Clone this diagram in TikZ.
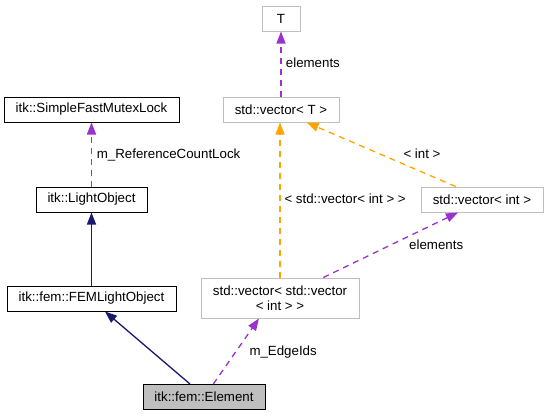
\documentclass[tikz,border=0pt]{standalone}
\usepackage{fontspec}
\setmainfont{Liberation Sans}
\usetikzlibrary{arrows.meta}
\definecolor{navy}{HTML}{191970}
\definecolor{purp}{HTML}{9A32CD}
\definecolor{orng}{HTML}{FFA500}
\definecolor{gbord}{HTML}{BFBFBF}
\definecolor{efill}{HTML}{BFBFBF}
\tikzset{
  base/.style={rectangle, inner sep=0pt, font=\fontsize{13.3}{14.7}\selectfont, align=center, line width=1pt},
  blackbox/.style={base, draw=black},
  graybox/.style={base, draw=gbord},
  lbl/.style={inner sep=0pt, anchor=west, font=\fontsize{13.3}{14.7}\selectfont, text height=9.5pt, text depth=0pt},
  inherit/.style={draw=navy, line width=1.3pt, -{Triangle[length=12pt,width=9pt]}},
  usepurp/.style={draw=purp, line width=1.3pt, dash pattern=on 6pt off 5pt, -{Triangle[length=12pt,width=9pt]}, purp},
  useorng/.style={draw=orng, line width=1.3pt, dash pattern=on 6pt off 5pt, -{Triangle[length=12pt,width=9pt]}, orng},
}
\begin{document}
\begin{tikzpicture}[x=1pt, y=-1pt]
\useasboundingbox (0,0) rectangle (549,416);
% nodes
\node[graybox, minimum width=38pt, minimum height=25pt] (T) at (281,18.5) {T};
\node[graybox, minimum width=116pt, minimum height=25pt] (vecT) at (281,109.5) {std::vector< T >};
\node[blackbox, minimum width=175pt, minimum height=25pt] (mutex) at (91.5,109.5) {itk::SimpleFastMutexLock};
\node[blackbox, minimum width=111pt, minimum height=25pt] (light) at (91.5,199.5) {itk::LightObject};
\node[blackbox, minimum width=169pt, minimum height=25pt] (fem) at (91.5,298.5) {itk::fem::FEMLightObject};
\node[blackbox, fill=efill, minimum width=122pt, minimum height=25pt] (elem) at (204,397) {itk::fem::Element};
\node[graybox, minimum width=158pt, minimum height=40pt] (vv) at (280,298) {std::vector< std::vector\\< int > >};
\node[graybox, minimum width=122pt, minimum height=25pt] (vint) at (482,199.5) {std::vector< int >};
% connectors
\draw[usepurp] (light.north) -- (mutex.south);
\draw[usepurp] (vecT.north) -- (T.south);
\draw[inherit] (fem.north) -- (light.south);
\draw[inherit] ([xshift=-14pt]elem.north) -- ([xshift=13.5pt]fem.south);
\draw[usepurp] ([xshift=9.3pt]elem.north) -- ([xshift=-21pt]vv.south);
\draw[useorng] (vv.north) -- (vecT.south -| vv.north);
\draw[useorng] ([xshift=-26.3pt]vint.north) -- ([xshift=25.7pt]vecT.south);
\draw[usepurp] ([xshift=43.3pt]vv.north) -- ([xshift=-24pt]vint.south);
% labels
\node[lbl] (l1) at (96.7,154) {m\_ReferenceCountLock};
\node[lbl] (l2) at (285.7,62.7) {elements};
\node[lbl] (l3) at (403.3,154) {< int >};
\node[lbl] (l4) at (284.3,199) {< std::vector< int > >};
\node[lbl] (l5) at (409,244.3) {elements};
\node[lbl] (l6) at (249.3,350.7) {m\_EdgeIds};
\end{tikzpicture}
\end{document}
